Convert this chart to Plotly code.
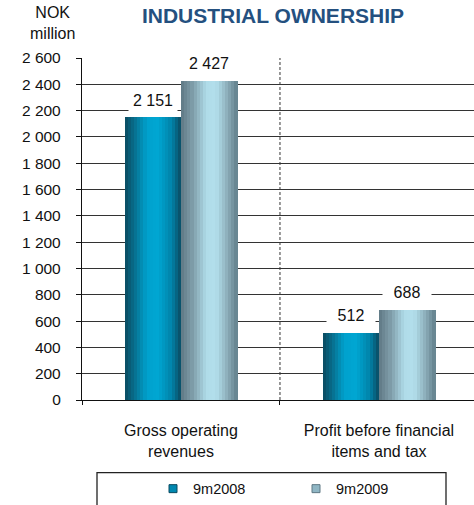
import plotly.graph_objects as go

# Chart data
categories = ["Gross operating<br>revenues", "Profit before financial<br>items and tax"]
series_names = ["9m2008", "9m2009"]
values_2008 = [2151, 512]
values_2009 = [2427, 688]
y_ticks = list(range(0, 2601, 200))

# Horizontal "cylinder" shading for each series: (position, colour) stops
shade_2008 = [(0.0, "#0b4a60"), (0.18, "#07708f"), (0.4, "#00a2ce"),
              (0.6, "#00a6d2"), (0.82, "#0185ac"), (1.0, "#0b4a60")]
shade_2009 = [(0.0, "#5f7884"), (0.2, "#7e9ca8"), (0.45, "#afdbe9"),
              (0.62, "#b3dfec"), (0.85, "#86a6b2"), (1.0, "#62808c")]
legend_colors = ["#0088b0", "#8fb6c4"]


def hex_to_rgb(h):
    h = h.lstrip("#")
    return tuple(int(h[i:i + 2], 16) for i in (0, 2, 4))


def shade_at(stops, t):
    for (p0, c0), (p1, c1) in zip(stops[:-1], stops[1:]):
        if p0 <= t <= p1:
            f = 0 if p1 == p0 else (t - p0) / (p1 - p0)
            a, b = hex_to_rgb(c0), hex_to_rgb(c1)
            return "rgb(%d,%d,%d)" % tuple(round(a[i] + (b[i] - a[i]) * f) for i in range(3))
    return stops[-1][1]


FONT = "Liberation Sans, Arial"
BAR_W = 0.285      # width of one bar in category units
N_SLICES = 18      # vertical slices used to draw the shading

fig = go.Figure()
series = [(series_names[0], values_2008, shade_2008),
          (series_names[1], values_2009, shade_2009)]
for s, (name, vals, stops) in enumerate(series):
    sw = BAR_W / N_SLICES
    for k in range(N_SLICES):
        t = (k + 0.5) / N_SLICES
        fig.add_trace(go.Bar(
            x=categories, y=vals,
            width=sw * 1.04, offset=-BAR_W + s * BAR_W + k * sw,
            marker=dict(color=shade_at(stops, t), line=dict(width=0)),
            name=name, showlegend=False, legendgroup=name, hoverinfo="skip",
        ))
    # small square legend key for the series
    fig.add_trace(go.Scatter(
        x=[None], y=[None], mode="markers", name=name, legendgroup=name,
        marker=dict(symbol="square", size=8, color=legend_colors[s],
                    line=dict(color=stops[0][1], width=1)),
        showlegend=True, hoverinfo="skip",
    ))

# Value labels with white boxes above each bar
fmt = lambda v: f"{v:,}".replace(",", " ")
for s, (name, vals, stops) in enumerate(series):
    for i, v in enumerate(vals):
        fig.add_annotation(
            x=i + (s - 0.5) * BAR_W, y=v, xref="x", yref="y",
            text=fmt(v), showarrow=False, yshift=17,
            font=dict(family=FONT, size=16, color="#111111"),
            bgcolor="white", borderpad=3, width=42,
        )

# Dashed divider between the two groups
fig.add_shape(type="line", xref="x", yref="y", x0=0.5, x1=0.5, y0=0, y1=2600,
              line=dict(color="#333333", width=1, dash="3px,2px"), layer="above")

# Legend frame
fig.add_shape(type="rect", xref="paper", yref="paper",
              x0=(97 - 82) / 392, x1=(446 - 82) / 392,
              y0=-(480 - 406) / 348, y1=-0.45,
              line=dict(color="#222222", width=1.3), fillcolor="rgba(0,0,0,0)")

# Unit label
fig.add_annotation(xref="paper", yref="paper", x=(52 - 82) / 392, y=(406 - 22) / 348,
                   text="NOK<br>million", showarrow=False, xanchor="center", yanchor="middle",
                   font=dict(family=FONT, size=16, color="#111111"))

fig.update_layout(
    width=474, height=505,
    margin=dict(l=82, r=0, t=58, b=99),
    paper_bgcolor="white", plot_bgcolor="white",
    barmode="overlay", bargap=0,
    separators=". ",
    font=dict(family=FONT, size=16, color="#111111"),
    title=dict(text="<b>INDUSTRIAL OWNERSHIP</b>", x=273 / 474, xanchor="center",
               y=1 - 16 / 505, yanchor="middle",
               font=dict(family=FONT, size=21, color="#24507f")),
    showlegend=True,
    legend=dict(orientation="h", x=(153 - 82) / 392, xanchor="left",
                y=-(480 - 406) / 348, yanchor="top",
                font=dict(size=14.5, color="#111111"), itemwidth=30,
                entrywidth=98, bgcolor="rgba(0,0,0,0)", traceorder="normal"),
    xaxis=dict(
        type="category", range=[-0.5, 1.48],
        showline=True, linecolor="#111111", linewidth=1.3,
        ticks="outside", tickson="boundaries", ticklen=4, tickcolor="#111111",
        ticklabelstandoff=16,
        showgrid=False, tickfont=dict(size=16), fixedrange=True,
    ),
    yaxis=dict(
        range=[0, 2600], tickvals=y_ticks, tickformat=",d",
        showline=True, linecolor="#111111", linewidth=1.3,
        ticks="outside", ticklen=5, tickcolor="#111111",
        ticklabelstandoff=12,
        showgrid=True, gridcolor="#333333", gridwidth=1.2,
        zeroline=False, tickfont=dict(size=15.5),
    ),
)

fig.write_html("out.html")
